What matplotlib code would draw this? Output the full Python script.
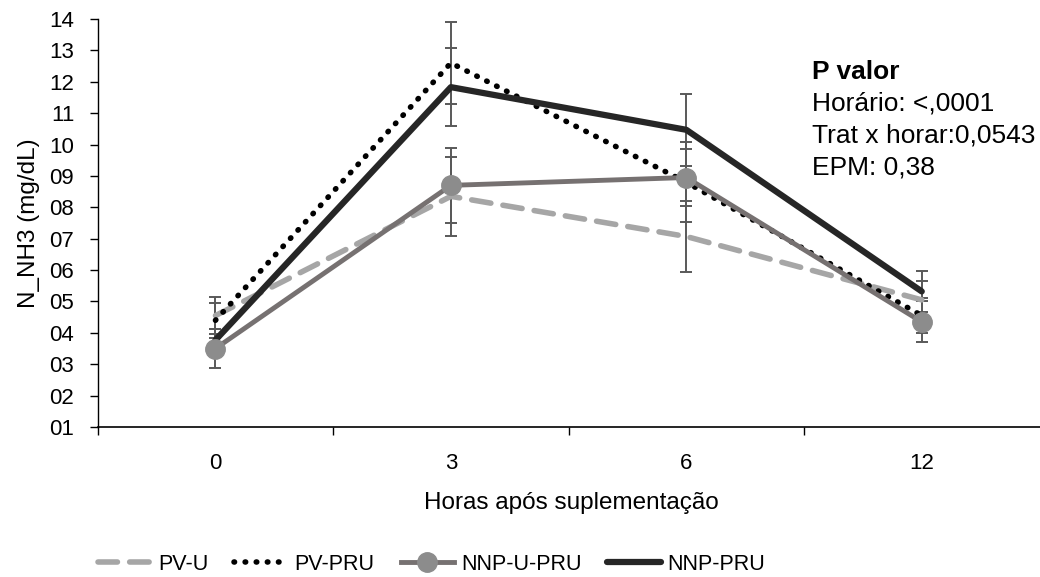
import numpy as np
import matplotlib.pyplot as plt

plt.rcParams['font.family'] = ['Liberation Sans', 'DejaVu Sans']

horas = ['0', '3', '6', '12']
pv_u = [4.55, 8.35, 7.07, 5.05]
pv_u_err = [0.6, 1.25, 1.13, 0.6]
pv_pru = [4.4, 12.6, 8.8, 4.55]
pv_pru_err = [0.55, 1.3, 1.27, 0.55]
nnp_u_pru = [3.5, 8.7, 8.95, 4.35]
nnp_u_pru_err = [0.62, 1.2, 0.9, 0.65]
nnp_pru = [3.77, 11.83, 10.47, 5.32]
nnp_pru_err = [0.35, 1.24, 1.14, 0.65]

notas = ['Horário: <,0001', 'Trat x horar:0,0543', 'EPM: 0,38']

x = np.arange(len(horas))
fs = 16

fig = plt.figure(figsize=(10.4, 5.77), dpi=100)
ax = fig.add_axes([0.094, 0.26, 0.91, 0.707])

ecol = '#595959'
ekw = dict(ecolor=ecol, elinewidth=1.4, capsize=4.5, capthick=1.4, zorder=1)

ax.errorbar(x, pv_u, yerr=pv_u_err, fmt='none', **ekw)
ax.errorbar(x, pv_pru, yerr=pv_pru_err, fmt='none', **ekw)
ax.errorbar(x, nnp_u_pru, yerr=nnp_u_pru_err, fmt='none', **ekw)
ax.errorbar(x, nnp_pru, yerr=nnp_pru_err, fmt='none', **ekw)

ax.plot(x, pv_u, color='#A6A6A6', lw=4, dashes=(3.5, 2.2), dash_capstyle='round',
        label='PV-U', zorder=3)
ax.plot(x, pv_pru, color='black', lw=4, dashes=(0.1, 1.9), dash_capstyle='round',
        label='PV-PRU', zorder=3)
ax.plot(x, nnp_u_pru, color='#767171', lw=3.5, marker='o', ms=14,
        mfc='#8C8C8C', mec='#8C8C8C', label='NNP-U-PRU', zorder=4)
ax.plot(x, nnp_pru, color='#262626', lw=4.5, solid_capstyle='round',
        label='NNP-PRU', zorder=3)

ax.set_xlim(-0.5, 3.52)
ax.set_ylim(1, 14)
ax.set_yticks(range(1, 15))
ax.set_yticklabels(['%02d' % v for v in range(1, 15)])
ax.set_xticks(x)
ax.set_xticklabels(horas)
ax.set_xticks([-0.5, 0.5, 1.5, 2.5], minor=True)
ax.tick_params(axis='x', which='major', length=0, pad=19, labelsize=fs)
ax.tick_params(axis='x', which='minor', length=6, width=1, direction='out')
ax.tick_params(axis='y', length=6, width=1, labelsize=fs, pad=11)

for s in ['top', 'right']:
    ax.spines[s].set_visible(False)
ax.spines['left'].set_linewidth(1)
ax.spines['bottom'].set_linewidth(1.2)

ax.set_xlabel('Horas após suplementação', fontsize=17.5, labelpad=13)
ax.set_ylabel('N_NH3 (mg/dL)', fontsize=17.5, labelpad=7)

# bloco de texto com os valores de P
ax.text(0.755, 0.870, 'P valor', transform=ax.transAxes, fontsize=19,
        fontweight='bold', va='center')
for i, t in enumerate(notas):
    ax.text(0.755, 0.792 - 0.0785 * i, t, transform=ax.transAxes, fontsize=19,
            va='center')

fig.legend(loc='lower center', bbox_to_anchor=(0.415, -0.03), ncol=4,
           frameon=False, fontsize=15.5, handlelength=2.5, columnspacing=1.2,
           handletextpad=0.3)

fig.savefig('out.png', dpi=100)
